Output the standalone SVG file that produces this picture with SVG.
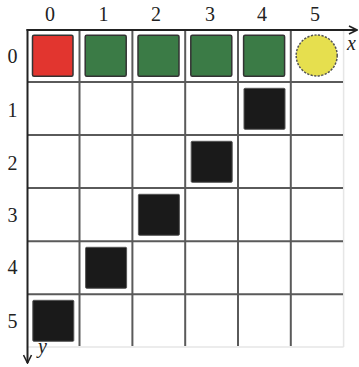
<svg xmlns="http://www.w3.org/2000/svg" width="359" height="367" viewBox="0 0 359 367">
<defs>
<style>
.lbl{font-family:"Liberation Serif","Times New Roman",serif;font-size:20px;fill:#222;text-anchor:middle}
.ax{font-family:"Liberation Serif","Times New Roman",serif;font-size:20px;font-style:italic;fill:#222;text-anchor:middle}
.g{stroke:#5a5a5a;stroke-width:2;fill:none}
.gl{stroke:#e6e6e6;stroke-width:1.5;fill:none}
.axis{stroke:#222;stroke-width:2;fill:none}
.sq{stroke:#333;stroke-width:1.5}
.red{fill:#e2352f}
.green{fill:#3b7b46}
.blk{fill:#1a1a1a;stroke:#555;stroke-width:1}
</style>
<marker id="arr" viewBox="0 0 10 10" refX="9" refY="5" markerWidth="10" markerHeight="10" markerUnits="userSpaceOnUse" orient="auto">
<path d="M1,1 L9,5 L1,9" fill="none" stroke="#222" stroke-width="1.6"/>
</marker>
</defs>
<rect width="359" height="367" fill="#fff"/>
<g id="labels">
<text class="lbl" x="50" y="21">0</text>
<text class="lbl" x="103.5" y="21">1</text>
<text class="lbl" x="156" y="21">2</text>
<text class="lbl" x="210" y="21">3</text>
<text class="lbl" x="262" y="21">4</text>
<text class="lbl" x="315" y="21">5</text>
<text class="lbl" x="12.5" y="63">0</text>
<text class="lbl" x="12.5" y="117">1</text>
<text class="lbl" x="12.5" y="170">2</text>
<text class="lbl" x="12.5" y="222">3</text>
<text class="lbl" x="12.5" y="274">4</text>
<text class="lbl" x="12.5" y="328">5</text>
</g>
<g id="grid">
<path class="gl" d="M343.6,30 V347 M27.5,347 H343.6"/>
<path class="g" d="M79.5,30 V346 M132.4,30 V346 M185.2,30 V346 M238,30 V346 M290.8,30 V346"/>
<path class="g" d="M27.5,82 H343 M27.5,135 H343 M27.5,188 H343 M27.5,241.3 H343 M27.5,294.3 H343"/>
</g>
<g id="connectors">
<line class="axis" x1="26.5" y1="30" x2="357" y2="30" marker-end="url(#arr)"/>
<line class="axis" x1="27.5" y1="29" x2="27.5" y2="363" marker-end="url(#arr)"/>
<text class="ax" x="351.5" y="50">x</text>
<text class="ax" x="42.5" y="353">y</text>
</g>
<g id="start"><rect class="sq red" x="32.5" y="35.3" width="40.5" height="41" rx="1.5"/></g>
<g id="path1"><rect class="sq green" x="85.2" y="35.3" width="41" height="41" rx="1.5"/></g>
<g id="path2"><rect class="sq green" x="138" y="35.3" width="41" height="41" rx="1.5"/></g>
<g id="path3"><rect class="sq green" x="190.8" y="35.3" width="41" height="41" rx="1.5"/></g>
<g id="path4"><rect class="sq green" x="243.6" y="35.3" width="41" height="41" rx="1.5"/></g>
<g id="goal"><circle cx="316.7" cy="55.5" r="20.5" fill="#e6df4e" stroke="#555" stroke-width="1.5" stroke-dasharray="2.2 1.4"/></g>
<g id="obs1"><rect class="blk" x="244" y="88.3" width="41" height="41" rx="1"/></g>
<g id="obs2"><rect class="blk" x="191.2" y="141.3" width="41" height="41" rx="1"/></g>
<g id="obs3"><rect class="blk" x="138.4" y="194.3" width="41" height="41" rx="1"/></g>
<g id="obs4"><rect class="blk" x="85.6" y="247.3" width="41" height="41" rx="1"/></g>
<g id="obs5"><rect class="blk" x="32.8" y="300.3" width="41" height="41" rx="1"/></g>
</svg>
